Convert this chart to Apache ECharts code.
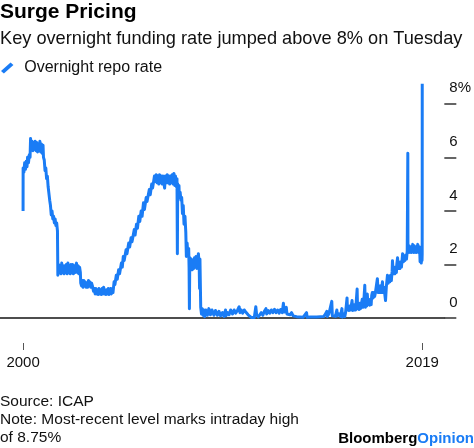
<!DOCTYPE html>
<html><head><meta charset="utf-8">
<script src="https://cdn.jsdelivr.net/npm/echarts@6/dist/echarts.min.js"></script>
<style>html,body{margin:0;padding:0;background:#fff}#c{width:474px;height:448px}</style>
</head><body><div id="c"></div>
<script>
const titleText = 'Surge Pricing';
const subtitleText = 'Key overnight funding rate jumped above 8% on Tuesday';
const seriesName = 'Overnight repo rate';
const yTicks = [0, 2, 4, 6, 8];
const xTickDates = ['2000-01-03', '2019-09-17'];
const xTickLabels = ['2000', '2019'];
const xRange = ['1998-11-13', '2020-10-19'];
const footnote = ['Source: ICAP', 'Note: Most-recent level marks intraday high', 'of 8.75%'];

const rate2000to2001 = [
 ['2000-01-03',4.0],['2000-01-04',5.6],['2000-01-18',5.45],['2000-02-01',5.8],['2000-02-15',5.55],
 ['2000-02-29',5.85],['2000-03-14',5.65],['2000-03-24',6.0],['2000-04-10',5.8],['2000-04-25',6.1],
 ['2000-05-08',6.0],['2000-05-17',6.7],['2000-05-31',6.3],['2000-06-14',6.6],['2000-06-28',6.25],
 ['2000-07-12',6.55],['2000-07-26',6.3],['2000-08-09',6.6],['2000-08-23',6.25],['2000-09-06',6.55],
 ['2000-09-20',6.2],['2000-10-04',6.5],['2000-10-18',6.25],['2000-11-01',6.6],['2000-11-15',6.2],
 ['2000-11-29',6.5],['2000-12-13',6.15],['2000-12-28',6.45],['2001-01-05',6.0],['2001-01-19',5.9],
 ['2001-02-02',5.5],['2001-02-16',5.6],['2001-03-02',5.2],['2001-03-16',5.3],['2001-03-30',4.9],
 ['2001-04-13',4.95],['2001-04-27',4.4],['2001-05-11',4.2],['2001-05-25',3.85],['2001-06-08',4.0],
 ['2001-06-22',3.7],['2001-07-06',3.8],['2001-07-20',3.55],['2001-08-03',3.7],['2001-08-17',3.45],
 ['2001-08-31',3.55],['2001-09-14',3.25],['2001-09-21',1.6],['2001-10-05',2.0],['2001-10-19',1.7],
 ['2001-11-02',1.95],['2001-11-16',1.65],['2001-11-30',2.05],['2001-12-14',1.7],['2001-12-28',1.95]
];
const rate2002to2004 = [
 ['2002-01-11',1.65],['2002-01-25',1.95],['2002-02-08',1.7],['2002-02-22',2.0],['2002-03-08',1.65],
 ['2002-03-22',2.05],['2002-04-05',1.7],['2002-04-19',1.95],['2002-05-03',1.65],['2002-05-17',2.0],
 ['2002-05-31',1.7],['2002-06-14',2.0],['2002-06-28',1.65],['2002-07-12',1.95],['2002-07-26',1.7],
 ['2002-08-09',1.95],['2002-08-23',2.05],['2002-09-06',1.7],['2002-09-20',1.95],['2002-10-04',1.65],
 ['2002-10-18',1.9],['2002-11-01',1.7],['2002-11-08',1.3],['2002-11-22',1.2],['2002-12-06',1.4],
 ['2002-12-20',1.15],['2003-01-03',1.4],['2003-01-17',1.2],['2003-01-31',1.35],['2003-02-14',1.15],
 ['2003-02-28',1.3],['2003-03-14',1.15],['2003-03-28',1.4],['2003-04-11',1.2],['2003-04-25',1.35],
 ['2003-05-09',1.15],['2003-05-23',1.3],['2003-06-06',1.2],['2003-06-26',1.0],['2003-07-11',1.1],
 ['2003-07-25',0.9],['2003-08-08',1.1],['2003-08-22',0.9],['2003-09-05',1.05],['2003-09-19',0.88],
 ['2003-10-03',1.1],['2003-10-17',0.9],['2003-10-31',1.05],['2003-11-14',0.88],['2003-11-28',1.1],
 ['2003-12-12',0.9],['2003-12-26',1.15],['2004-01-09',0.9],['2004-01-23',1.05],['2004-02-06',0.88],
 ['2004-02-20',1.05],['2004-03-05',0.9],['2004-03-19',1.1],['2004-04-02',0.88],['2004-04-16',1.0],
 ['2004-04-30',1.1],['2004-05-14',0.9],['2004-05-28',1.1],['2004-06-11',0.95],['2004-07-01',1.35],
 ['2004-07-16',1.25],['2004-08-10',1.6],['2004-08-27',1.45],['2004-09-21',1.8],['2004-10-08',1.65],
 ['2004-11-10',2.05],['2004-11-26',1.9],['2004-12-14',2.3],['2004-12-30',2.15]
];
const rate2005to2008 = [
 ['2005-02-02',2.55],['2005-02-18',2.4],['2005-03-22',2.8],['2005-04-08',2.65],['2005-05-03',3.0],
 ['2005-05-20',2.85],['2005-06-30',3.3],['2005-07-15',3.1],['2005-08-09',3.5],['2005-08-26',3.35],
 ['2005-09-20',3.8],['2005-10-07',3.6],['2005-11-01',4.0],['2005-11-18',3.8],['2005-12-13',4.3],
 ['2005-12-30',4.05],['2006-01-31',4.5],['2006-02-15',4.35],['2006-03-28',4.8],['2006-04-14',4.6],
 ['2006-05-10',5.0],['2006-05-26',4.85],['2006-06-29',5.3],['2006-07-14',5.1],['2006-07-31',5.35],
 ['2006-08-15',5.05],['2006-08-31',5.3],['2006-09-15',5.0],['2006-09-29',5.35],['2006-10-13',5.05],
 ['2006-10-31',5.3],['2006-11-15',5.0],['2006-11-30',5.3],['2006-12-15',5.05],['2006-12-29',4.85],
 ['2007-01-12',5.3],['2007-01-31',5.05],['2007-02-15',5.35],['2007-02-28',5.05],['2007-03-15',5.3],
 ['2007-03-30',5.0],['2007-04-13',5.3],['2007-04-30',5.05],['2007-05-15',5.35],['2007-05-31',5.0],
 ['2007-06-15',5.4],['2007-06-29',4.95],['2007-07-13',5.3],['2007-07-31',4.9],['2007-08-09',5.2],
 ['2007-08-16',2.4],['2007-08-22',5.0],['2007-08-31',4.5],['2007-09-14',4.95],['2007-09-20',4.55],
 ['2007-10-05',4.7],['2007-10-19',4.4],['2007-11-02',4.5],['2007-11-16',3.9],['2007-11-30',4.2],
 ['2007-12-14',3.5],['2007-12-31',3.8],['2008-01-15',3.2],['2008-01-25',2.3],['2008-02-08',2.8],
 ['2008-02-22',2.3],['2008-03-07',2.6],['2008-03-14',1.9],['2008-03-20',0.35],['2008-03-27',2.25],
 ['2008-04-10',1.85],['2008-04-25',2.2],['2008-05-09',1.8],['2008-05-23',2.15],['2008-06-06',1.85],
 ['2008-06-20',2.25],['2008-07-03',1.9],['2008-07-18',2.3],['2008-08-01',1.85],['2008-08-15',2.2],
 ['2008-08-29',2.4],['2008-09-12',2.0],['2008-09-19',1.1],['2008-09-26',2.2],['2008-10-10',0.4],
 ['2008-10-24',0.15],['2008-11-07',0.35],['2008-11-21',0.1],['2008-12-05',0.3],['2008-12-19',0.05]
];
const rate2009to2015 = [
 ['2009-01-09',0.3],['2009-02-06',0.1],['2009-03-06',0.35],['2009-04-03',0.12],['2009-05-01',0.3],
 ['2009-06-05',0.1],['2009-07-03',0.28],['2009-08-07',0.1],['2009-09-04',0.25],['2009-10-02',0.08],
 ['2009-11-06',0.2],['2009-12-04',0.06],['2009-12-31',0.3],['2010-01-08',0.08],['2010-02-05',0.2],
 ['2010-03-05',0.12],['2010-04-02',0.3],['2010-05-07',0.15],['2010-06-04',0.3],['2010-07-02',0.18],
 ['2010-08-06',0.3],['2010-09-03',0.42],['2010-09-17',0.2],['2010-10-08',0.3],['2010-11-05',0.18],
 ['2010-12-03',0.3],['2010-12-31',0.22],['2011-01-14',0.28],['2011-02-11',0.12],['2011-03-11',0.05],
 ['2011-04-08',0.02],['2011-05-06',0.06],['2011-06-03',0.02],['2011-06-30',0.42],['2011-07-15',0.12],
 ['2011-08-12',0.04],['2011-09-09',0.12],['2011-10-07',0.2],['2011-11-04',0.1],['2011-12-02',0.25],
 ['2011-12-30',0.35],['2012-01-13',0.15],['2012-02-10',0.28],['2012-03-09',0.18],['2012-04-06',0.3],
 ['2012-05-04',0.2],['2012-06-01',0.32],['2012-06-29',0.2],['2012-07-27',0.3],['2012-08-24',0.18],
 ['2012-09-21',0.32],['2012-10-19',0.2],['2012-11-09',0.55],['2012-11-23',0.22],['2012-12-14',0.32],
 ['2012-12-31',0.4],['2013-01-11',0.15],['2013-02-08',0.22],['2013-03-08',0.12],['2013-04-05',0.2],
 ['2013-05-03',0.08],['2013-06-07',0.15],['2013-07-05',0.05],['2013-08-02',0.12],['2013-09-06',0.04],
 ['2013-10-04',0.1],['2013-11-01',0.03],['2013-12-06',0.1],['2013-12-31',0.2],['2014-01-10',0.03],
 ['2014-02-07',0.1],['2014-03-07',0.04],['2014-04-04',0.1],['2014-05-02',0.04],['2014-06-06',0.1],
 ['2014-07-03',0.04],['2014-08-01',0.1],['2014-09-05',0.05],['2014-10-03',0.12],['2014-11-07',0.06],
 ['2014-12-05',0.14],['2014-12-31',0.25],['2015-01-09',0.06],['2015-02-06',0.15],['2015-03-06',0.08],
 ['2015-03-31',0.62],['2015-04-10',0.08],['2015-05-08',0.15],['2015-06-05',0.06],['2015-06-30',0.3],
 ['2015-07-10',0.08],['2015-08-07',0.16],['2015-09-04',0.06],['2015-09-30',0.35],['2015-10-09',0.03],
 ['2015-11-06',0.15],['2015-11-20',0.05],['2015-12-04',0.2],['2015-12-17',0.45],['2015-12-31',0.75]
];
const rate2016to2019 = [
 ['2016-01-08',0.3],['2016-01-22',0.45],['2016-02-05',0.28],['2016-02-19',0.45],['2016-03-04',0.3],
 ['2016-03-31',0.65],['2016-04-08',0.28],['2016-04-22',0.45],['2016-05-06',0.3],['2016-05-20',0.5],
 ['2016-06-03',0.3],['2016-06-30',1.08],['2016-07-08',0.35],['2016-07-22',0.5],['2016-08-05',0.32],
 ['2016-08-19',0.55],['2016-09-02',0.35],['2016-09-30',0.7],['2016-10-14',0.4],['2016-10-28',0.6],
 ['2016-11-15',1.22],['2016-11-25',0.4],['2016-12-09',0.6],['2016-12-20',0.45],['2016-12-30',0.9],
 ['2017-01-13',0.5],['2017-01-27',0.7],['2017-02-10',0.48],['2017-02-24',0.65],['2017-03-10',0.5],
 ['2017-03-20',0.85],['2017-03-31',0.95],['2017-04-14',0.75],['2017-04-28',0.95],['2017-05-12',0.8],
 ['2017-05-26',0.95],['2017-06-16',1.0],['2017-06-30',1.47],['2017-07-14',0.95],['2017-07-28',1.2],
 ['2017-08-11',0.95],['2017-08-25',1.2],['2017-09-08',0.95],['2017-09-29',1.35],['2017-10-13',0.95],
 ['2017-10-27',1.15],['2017-11-10',0.9],['2017-11-24',0.65],['2017-12-08',1.15],['2017-12-15',1.3],
 ['2017-12-29',1.6],['2018-01-12',1.3],['2018-01-26',1.55],['2018-02-09',1.35],['2018-02-23',1.6],
 ['2018-03-09',1.4],['2018-03-23',1.75],['2018-03-29',2.14],['2018-04-13',1.65],['2018-04-27',1.85],
 ['2018-05-11',1.65],['2018-05-25',1.9],['2018-06-08',1.7],['2018-06-15',2.0],['2018-06-29',2.25],
 ['2018-07-13',1.85],['2018-07-27',2.05],['2018-08-10',1.85],['2018-08-24',2.1],['2018-09-07',1.9],
 ['2018-09-28',2.4],['2018-10-12',2.1],['2018-10-26',2.3],['2018-11-09',2.15],['2018-11-23',2.35],
 ['2018-12-07',2.2],['2018-12-20',2.5],['2018-12-31',6.15],['2019-01-02',2.75],['2019-01-11',2.45],
 ['2019-01-25',2.7],['2019-02-08',2.45],['2019-02-22',2.65],['2019-03-08',2.45],['2019-03-29',2.75],
 ['2019-04-12',2.45],['2019-04-26',2.7],['2019-05-10',2.45],['2019-05-24',2.65],['2019-06-07',2.45],
 ['2019-06-28',2.75],['2019-07-12',2.45],['2019-07-31',2.65],['2019-08-09',2.1],['2019-08-23',2.3],
 ['2019-08-30',2.05],['2019-09-06',2.3],['2019-09-13',2.15],['2019-09-16',2.4],['2019-09-17',8.75]
];

const BLUE = '#1a7cf5';
const FONT = '"Liberation Sans", Arial, sans-serif';
const tp = (d) => new Date(d + 'T00:00:00Z').getTime();
const repoData = [].concat(rate2000to2001, rate2002to2004, rate2005to2008, rate2009to2015, rate2016to2019)
  .map(p => [tp(p[0]), p[1]]);
const xTickVals = xTickDates.map(tp);
const xMin = tp(xRange[0]), xMax = tp(xRange[1]);

const chart = echarts.init(document.getElementById('c'), null, { renderer: 'canvas' });
chart.setOption({
  animation: false,
  textStyle: { fontFamily: FONT },
  title: [
    { text: titleText, subtext: subtitleText, left: 0, top: 2, padding: 0, itemGap: 7,
      textStyle: { fontSize: 21, fontWeight: 'bold', color: '#000', fontFamily: FONT },
      subtextStyle: { fontSize: 18.2, color: '#111', fontFamily: FONT } },
    { text: footnote.join('\n'), left: 0, top: 393, padding: 0,
      textStyle: { fontSize: 15.5, fontWeight: 'normal', lineHeight: 18, color: '#111', fontFamily: FONT } },
    { text: '{a|Bloomberg}{b|Opinion}', right: 0, top: 431, padding: 0,
      textStyle: { rich: {
        a: { fontSize: 15, fontWeight: 'bold', color: '#000', fontFamily: FONT },
        b: { fontSize: 15, fontWeight: 'bold', color: BLUE, fontFamily: FONT } } } }
  ],
  legend: {
    left: 1, top: 60, padding: 0, itemWidth: 14, itemHeight: 11,
    icon: 'path://M0,9 L10,0 L13,2.5 L3,11.5 Z',
    textStyle: { fontSize: 16, color: '#111', padding: [0, 0, 0, 5], fontFamily: FONT },
    data: [seriesName]
  },
  grid: { left: 0, right: 29, top: 77, bottom: 130, containLabel: false },
  xAxis: [
    { type: 'value', min: xMin, max: xMax, scale: true,
      axisLine: { lineStyle: { color: '#4d4d4d', width: 2 } },
      axisTick: { show: false }, axisLabel: { show: false }, splitLine: { show: false } },
    { type: 'value', min: xMin, max: xMax, scale: true, position: 'bottom', offset: 25,
      axisLine: { show: false },
      axisTick: { show: true, length: 7, customValues: xTickVals, lineStyle: { color: '#555', width: 1 } },
      axisLabel: { customValues: xTickVals, margin: 12, fontSize: 15, color: '#111', fontFamily: FONT,
        formatter: (v) => { const i = xTickVals.indexOf(v); return i >= 0 ? xTickLabels[i] : ''; } },
      splitLine: { show: false } }
  ],
  yAxis: {
    type: 'value', position: 'right', min: 0, max: 9,
    axisLine: { show: false },
    axisTick: { show: true, length: 12, customValues: yTicks, lineStyle: { color: '#333', width: 1.5 } },
    axisLabel: { customValues: yTicks, margin: 5, fontSize: 15, color: '#111', fontFamily: FONT,
      verticalAlign: 'bottom', padding: [0, 0, 8, 0],
      formatter: (v) => (v === 8 ? '8%' : String(v)) },
    splitLine: { show: false }
  },
  series: [{
    name: seriesName, type: 'line', data: repoData, xAxisIndex: 0, yAxisIndex: 0,
    showSymbol: false, symbol: 'none',
    lineStyle: { color: BLUE, width: 3, join: 'round' }, itemStyle: { color: BLUE }
  }]
});
</script>
</body></html>
